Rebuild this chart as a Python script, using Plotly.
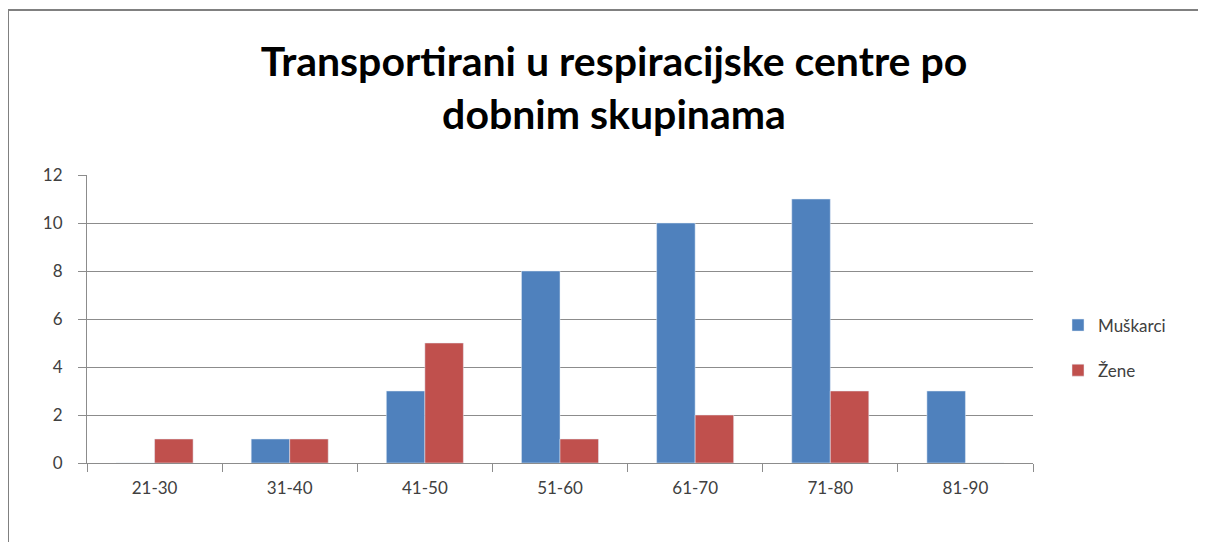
import plotly.graph_objects as go

categories = ["21-30", "31-40", "41-50", "51-60", "61-70", "71-80", "81-90"]
muskarci = [0, 1, 3, 8, 10, 11, 3]
zene = [1, 1, 5, 1, 2, 3, 0]
y_ticks = [0, 2, 4, 6, 8, 10, 12]

OFF = 8  # page body margin
W, H = 1206 - OFF, 542 - OFF
L, R, T, B = 87 - OFF, 1033 - OFF, 175 - OFF, 463 - OFF

fig = go.Figure()
fig.add_trace(go.Bar(name="Muškarci", x=categories, y=muskarci, marker_color="#4F81BD",
                     legendgroup="m"))
fig.add_trace(go.Bar(name="Žene", x=categories, y=zene, marker_color="#C0504D",
                     legendgroup="z"))

def px_x(p):
    return (p - OFF - L) / (R - L)

def px_y(p):
    return (B - (p - OFF)) / (B - T)

fig.update_layout(
    width=W, height=H,
    margin=dict(l=L, r=W - R, t=T, b=H - B, pad=0),
    paper_bgcolor="white", plot_bgcolor="white",
    barmode="group", bargap=0.43, bargroupgap=0,
    font=dict(family="Lato, Open Sans, sans-serif", color="#404040"),
    title=dict(
        text="Transportirani u respiracijske centre po<br>dobnim skupinama",
        x=(614 - OFF) / W, xref="container", xanchor="center",
        y=1 - (76 - OFF) / H, yanchor="middle",
        font=dict(family="Lato, sans-serif", size=41, color="black", weight="bold"),
    ),
    legend=dict(
        x=px_x(1058), y=px_y(348), xanchor="left", yanchor="middle",
        font=dict(size=17, color="#404040"), itemwidth=30,
        traceorder="grouped", tracegroupgap=20,
        bgcolor="rgba(0,0,0,0)",
    ),
    showlegend=True,
)

fig.update_xaxes(
    type="category", showline=True, linecolor="#8c8c8c", linewidth=1,
    ticks="outside", tickson="boundaries", ticklen=8, tickcolor="#8c8c8c",
    ticklabelstandoff=10,
    tickfont=dict(size=17, color="#404040"), showgrid=False,
)
fig.update_yaxes(
    range=[0, 12], tickvals=y_ticks, showline=True, linecolor="#8c8c8c", linewidth=1,
    ticks="outside", ticklen=8, tickcolor="#8c8c8c", ticklabelstandoff=12,
    showgrid=True, gridcolor="#8c8c8c", gridwidth=1, zeroline=False,
    tickfont=dict(size=17, color="#404040"),
)

# outer chart border (top and left visible in reference)
fig.add_shape(type="line", xref="paper", yref="paper",
              x0=px_x(8), x1=px_x(1206), y0=px_y(10), y1=px_y(10),
              line=dict(color="#808080", width=2))
fig.add_shape(type="line", xref="paper", yref="paper",
              x0=px_x(8), x1=px_x(8), y0=px_y(10), y1=px_y(542),
              line=dict(color="#808080", width=2))

fig.write_html("out.html")
